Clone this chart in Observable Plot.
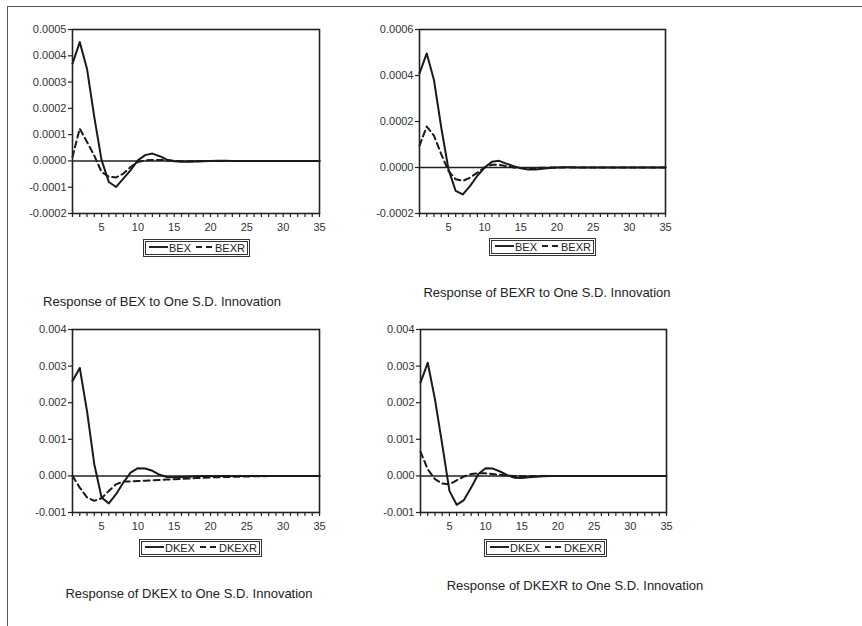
<!DOCTYPE html>
<html><head><meta charset="utf-8">
<script src="https://cdn.jsdelivr.net/npm/d3@7"></script>
<script src="https://cdn.jsdelivr.net/npm/@observablehq/plot@0.6"></script>
<style>
body{margin:0;background:#fff;}
#root{position:relative;width:862px;height:626px;overflow:hidden;font-family:"Liberation Sans",Arial,sans-serif;color:#222;background:#fff;}
.outer{position:absolute;left:7px;top:6px;width:900px;height:700px;border-top:1px solid #555;border-left:1px solid #555;}
.panel{position:absolute;}
.title{position:absolute;font-size:13px;line-height:13px;white-space:nowrap;transform:translateX(-50%);color:#222;}
.legend{position:absolute;height:18px;box-sizing:border-box;border:3px double #333;display:flex;align-items:flex-end;font-size:11px;line-height:11px;padding:0 2px 0 3px;white-space:nowrap;color:#222;}
.legend .ls{display:inline-block;width:19px;border-top:2px solid #222;margin:0 1px 6px 0;}
.legend .ld{display:inline-block;width:16px;border-top:2px dashed #222;margin:0 3px 6px 5px;}
</style>
</head><body>
<div id="root"><div class="outer"></div></div>
<script>
const periods = [1,2,3,4,5,6,7,8,9,10,11,12,13,14,15,16,17,18,19,20,21,22,23,24,25,26,27,28,29,30,31,32,33,34,35];

// Response of BEX
const bexToBex  = [3.70e-4,4.52e-4,3.50e-4,1.67e-4,0.03e-4,-0.80e-4,-0.99e-4,-0.67e-4,-0.35e-4,0.02e-4,0.22e-4,0.28e-4,0.18e-4,0.05e-4,-0.01e-4,-0.03e-4,-0.03e-4,-0.02e-4,-0.01e-4,0,0.005e-4,0.005e-4,0,0,0,0,0,0,0,0,0,0,0,0,0];
const bexToBexr = [0.15e-4,1.23e-4,0.72e-4,0.20e-4,-0.42e-4,-0.60e-4,-0.63e-4,-0.48e-4,-0.23e-4,-0.04e-4,0.02e-4,0.04e-4,0.04e-4,0.02e-4,0,-0.01e-4,-0.01e-4,-0.01e-4,0,0,0,0,0,0,0,0,0,0,0,0,0,0,0,0,0];
// Response of BEXR
const bexrToBex  = [4.09e-4,4.96e-4,3.80e-4,1.75e-4,-0.07e-4,-1.02e-4,-1.17e-4,-0.80e-4,-0.36e-4,0,0.25e-4,0.29e-4,0.17e-4,0.06e-4,-0.03e-4,-0.09e-4,-0.09e-4,-0.05e-4,-0.02e-4,0,0.01e-4,0.01e-4,0,0,0,0,0,0,0,0,0,0,0,0,0];
const bexrToBexr = [0.95e-4,1.78e-4,1.39e-4,0.58e-4,-0.15e-4,-0.51e-4,-0.58e-4,-0.44e-4,-0.22e-4,0,0.12e-4,0.12e-4,0.06e-4,0,-0.02e-4,-0.03e-4,-0.02e-4,-0.01e-4,0,0,0,0,0,0,0,0,0,0,0,0,0,0,0,0,0];
// Response of DKEX
const dkexToDkex  = [2.59e-3,2.95e-3,1.77e-3,0.32e-3,-0.59e-3,-0.75e-3,-0.50e-3,-0.18e-3,0.09e-3,0.21e-3,0.20e-3,0.14e-3,0.03e-3,-0.03e-3,-0.04e-3,-0.03e-3,-0.02e-3,-0.01e-3,0,0,0,0,0,0,0,0,0,0,0,0,0,0,0,0,0];
const dkexToDkexr = [0,-0.32e-3,-0.59e-3,-0.68e-3,-0.61e-3,-0.41e-3,-0.23e-3,-0.15e-3,-0.15e-3,-0.14e-3,-0.13e-3,-0.12e-3,-0.11e-3,-0.10e-3,-0.09e-3,-0.08e-3,-0.07e-3,-0.06e-3,-0.05e-3,-0.04e-3,-0.035e-3,-0.03e-3,-0.025e-3,-0.02e-3,-0.015e-3,-0.01e-3,-0.008e-3,-0.006e-3,-0.005e-3,-0.004e-3,-0.003e-3,-0.002e-3,-0.002e-3,-0.001e-3,-0.001e-3];
// Response of DKEXR
const dkexrToDkex  = [2.55e-3,3.09e-3,2.09e-3,0.86e-3,-0.41e-3,-0.79e-3,-0.66e-3,-0.32e-3,0.05e-3,0.21e-3,0.20e-3,0.12e-3,0.02e-3,-0.05e-3,-0.06e-3,-0.04e-3,-0.02e-3,-0.01e-3,0,0,0,0,0,0,0,0,0,0,0,0,0,0,0,0,0];
const dkexrToDkexr = [0.66e-3,0.18e-3,-0.09e-3,-0.21e-3,-0.23e-3,-0.12e-3,-0.02e-3,0.05e-3,0.07e-3,0.07e-3,0.05e-3,0.03e-3,0.01e-3,0,-0.01e-3,-0.01e-3,0,0,0,0,0,0,0,0,0,0,0,0,0,0,0,0,0,0,0];

const yTicksBex  = [-0.0002,-0.0001,0,0.0001,0.0002,0.0003,0.0004,0.0005];
const yTicksBexr = [-0.0002,0,0.0002,0.0004,0.0006];
const yTicksDk   = [-0.001,0,0.001,0.002,0.003,0.004];
const xLabelTicks = [5,10,15,20,25,30,35];

const titles = ["Response of BEX to One S.D. Innovation","Response of BEXR to One S.D. Innovation","Response of DKEX to One S.D. Innovation","Response of DKEXR to One S.D. Innovation"];
const legendNames = [["BEX","BEXR"],["BEX","BEXR"],["DKEX","DKEXR"],["DKEX","DKEXR"]];

const root = document.getElementById("root");
const fmt = digits => d => (d < -1e-12 ? "-" : "") + Math.abs(d).toFixed(digits);

function panel(cfg){
  const data = periods.map((p,i)=>({p, s: cfg.solid[i], d: cfg.dashed[i]}));
  const W = cfg.ml + cfg.w + 16, H = cfg.mt + cfg.h + 28;
  const chart = Plot.plot({
    width: W, height: H,
    marginLeft: cfg.ml, marginTop: cfg.mt, marginRight: 16, marginBottom: 28,
    style: {fontFamily: '"Liberation Sans", Arial, sans-serif', fontSize: "11px", color: "#222", background: "transparent", overflow: "visible"},
    x: {domain: [1,35], label: null},
    y: {domain: cfg.yDomain, label: null},
    marks: [
      Plot.ruleY([0], {stroke: "#222", strokeWidth: 1.5}),
      Plot.lineY(data, {x: "p", y: "s", stroke: "#1a1a1a", strokeWidth: 2}),
      Plot.lineY(data, {x: "p", y: "d", stroke: "#1a1a1a", strokeWidth: 2, strokeDasharray: "6,4"}),
      Plot.frame({stroke: "#222", strokeWidth: 1.6}),
      Plot.axisX({ticks: periods, label: null, tickSize: 4, tickPadding: 6, tickFormat: d => xLabelTicks.includes(d) ? String(d) : "", stroke: "#222", strokeWidth: 1.2, fill: "#333"}),
      Plot.axisY({ticks: cfg.yTicks, label: null, tickSize: 4, tickPadding: 2, tickFormat: fmt(cfg.digits), stroke: "#222", strokeWidth: 1.2, fill: "#333"})
    ]
  });
  const wrap = document.createElement("div");
  wrap.className = "panel";
  wrap.style.left = cfg.x0 + "px";
  wrap.style.top = cfg.y0 + "px";
  wrap.appendChild(chart);
  root.appendChild(wrap);

  const lg = document.createElement("div");
  lg.className = "legend";
  lg.style.left = cfg.lgx + "px";
  lg.style.top = cfg.lgy + "px";
  lg.innerHTML = `<span class="ls"></span><span>${cfg.names[0]}</span><span class="ld"></span><span>${cfg.names[1]}</span>`;
  root.appendChild(lg);

  const t = document.createElement("div");
  t.className = "title";
  t.style.left = cfg.tx + "px";
  t.style.top = cfg.ty + "px";
  t.textContent = cfg.title;
  root.appendChild(t);
}

panel({x0:0,   y0:0,   ml:72, mt:29, w:247, h:184, solid:bexToBex,   dashed:bexToBexr,   yDomain:[-0.0002,0.0005], yTicks:yTicksBex,  digits:4, names:legendNames[0], title:titles[0], lgx:143, lgy:239, tx:162, ty:295});
panel({x0:370, y0:0,   ml:49, mt:29, w:246, h:184, solid:bexrToBex,  dashed:bexrToBexr,  yDomain:[-0.0002,0.0006], yTicks:yTicksBexr, digits:4, names:legendNames[1], title:titles[1], lgx:489, lgy:238, tx:547, ty:286});
panel({x0:0,   y0:300, ml:72, mt:29, w:247, h:183, solid:dkexToDkex, dashed:dkexToDkexr, yDomain:[-0.001,0.004],  yTicks:yTicksDk,   digits:3, names:legendNames[2], title:titles[2], lgx:139, lgy:539, tx:189, ty:587});
panel({x0:370, y0:300, ml:50, mt:29, w:246, h:183, solid:dkexrToDkex,dashed:dkexrToDkexr,yDomain:[-0.001,0.004],  yTicks:yTicksDk,   digits:3, names:legendNames[3], title:titles[3], lgx:484, lgy:539, tx:575, ty:579});
</script>
</body></html>
